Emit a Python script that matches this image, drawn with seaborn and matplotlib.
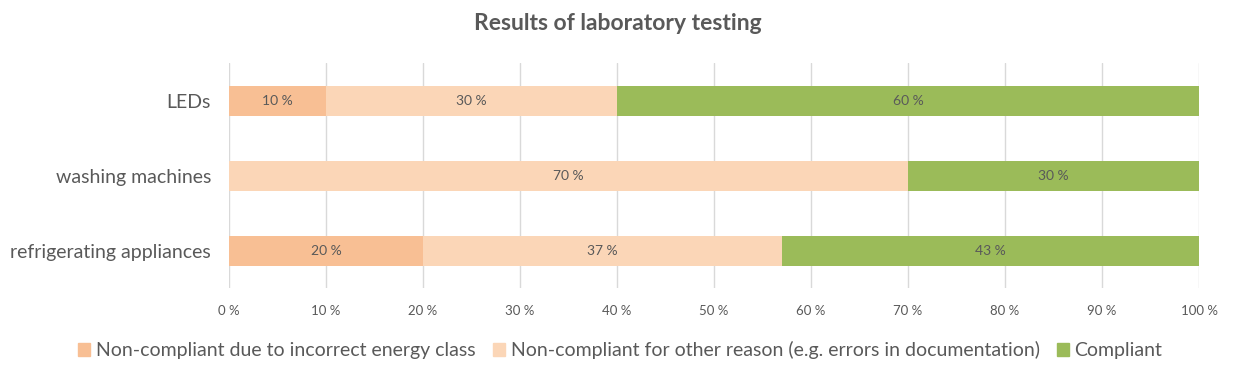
import numpy as np
import pandas as pd
import seaborn as sns
import matplotlib.pyplot as plt
from matplotlib.patches import Patch

# data (percent)
categories = ['LEDs', 'washing machines', 'refrigerating appliances']
energy_class = [10, 0, 20]
other_reason = [30, 70, 37]
compliant = [60, 30, 43]
series_names = ['Non-compliant due to incorrect energy class',
                'Non-compliant for other reason (e.g. errors in documentation)',
                'Compliant']
colors = ['#F8BF94', '#FBD6B7', '#9BBB59']
xticks = list(range(0, 101, 10))

sns.set_style('white')
plt.rcParams['font.family'] = ['Lato', 'DejaVu Sans']
txt = '#595959'

df = pd.DataFrame({'cat': categories, 'a': energy_class, 'b': other_reason, 'c': compliant})
df['ab'] = df['a'] + df['b']
df['abc'] = df['ab'] + df['c']

fig = plt.figure(figsize=(12.36, 3.75), dpi=100)
ax = fig.add_axes([0.1853, 0.2307, 0.7848, 0.60])

# stacked by overdrawing cumulative totals
sns.barplot(data=df, x='abc', y='cat', color=colors[2], width=0.4, ax=ax, saturation=1, zorder=2, linewidth=0)
sns.barplot(data=df, x='ab', y='cat', color=colors[1], width=0.4, ax=ax, saturation=1, zorder=3, linewidth=0)
sns.barplot(data=df, x='a', y='cat', color=colors[0], width=0.4, ax=ax, saturation=1, zorder=4, linewidth=0)

for i, row in df.iterrows():
    for start, val in [(0, row['a']), (row['a'], row['b']), (row['ab'], row['c'])]:
        if val > 0:
            ax.text(start + val / 2, i, f'{val} %', ha='center', va='center',
                    fontsize=10, color=txt, zorder=5)

ax.set_xlim(0, 100)
ax.set_ylim(2.5, -0.5)
ax.set_xticks(xticks)
ax.set_xticklabels([f'{t} %' for t in xticks], fontsize=9.5, color=txt)
ax.tick_params(axis='y', labelsize=14, labelcolor=txt, length=0, pad=13)
ax.tick_params(axis='x', length=0, pad=12)
ax.set_xlabel('')
ax.set_ylabel('')
ax.grid(axis='x', color='#D9D9D9', linewidth=1, zorder=0)
ax.set_axisbelow(True)
for s in ax.spines.values():
    s.set_visible(False)

fig.suptitle('Results of laboratory testing', fontsize=16.5, fontweight='bold',
             color=txt, y=0.965)

handles = [Patch(color=c, label=n) for c, n in zip(colors, series_names)]
fig.legend(handles=handles, loc='lower center', bbox_to_anchor=(0.502, -0.005),
           ncol=3, frameon=False, fontsize=14, labelcolor=txt,
           handlelength=0.6, handleheight=0.6, handletextpad=0.3, columnspacing=0.9)

plt.savefig('out.png', dpi=100)
